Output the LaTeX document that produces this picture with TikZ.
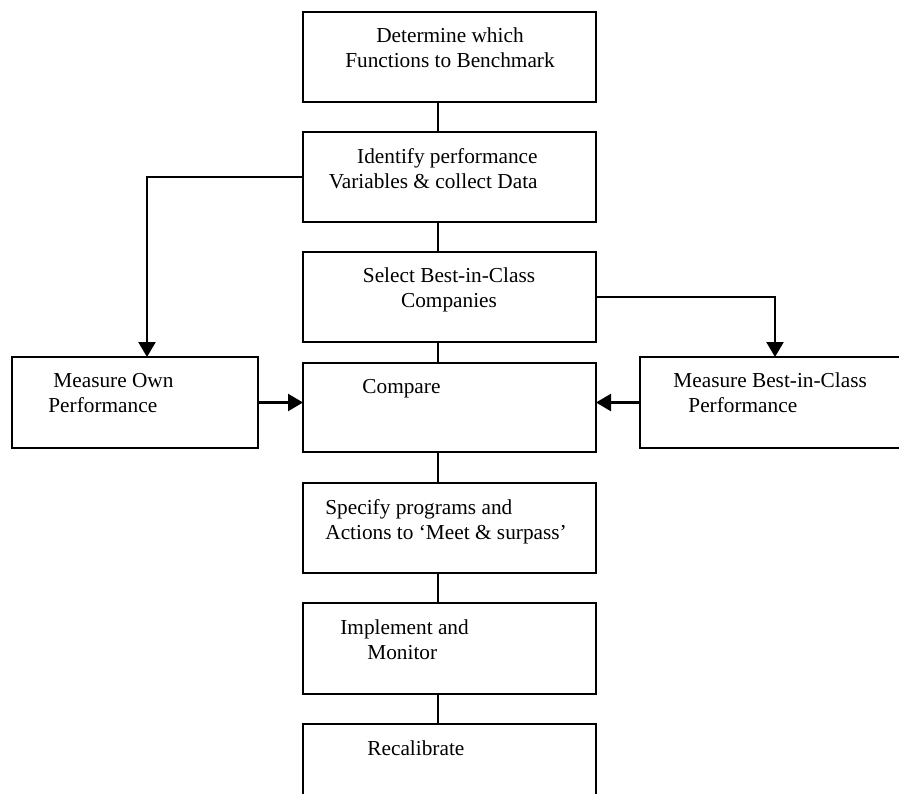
\documentclass[tikz,border=0pt]{standalone}
\usepackage{fontspec}
\setmainfont{Liberation Serif}
\usetikzlibrary{arrows.meta}

\tikzset{
    stage/.style={draw, line width=0.8pt, inner sep=0pt, outer sep=0pt, minimum width=146.5pt, minimum height=45pt},
    sidestage/.style={stage, minimum height=45.5pt},
    txt/.style={inner sep=0pt, font=\fontsize{10.65pt}{12.5pt}\selectfont},
    link/.style={line width=0.8pt},
    flow/.style={line width=1.2pt, -{Triangle[length=7.5pt, width=8.5pt]}}
}

\begin{document}
\begin{tikzpicture}[x=0.5pt, y=-0.5pt]
        \clip (0,0) rectangle (899,793);

        % main column
        \node[stage] (determine) at (449.5,57) {};
        \node[stage] (identify) at (449.5,177) {};
        \node[stage] (select) at (449.5,297) {};
        \node[stage, minimum height=44.5pt] (compare) at (449.5,407.5) {};
        \node[stage] (specify) at (449.5,528) {};
        \node[stage, minimum height=45.5pt] (implement) at (449.5,648.5) {};
        \node[stage] (recalibrate) at (449.5,769) {};

        % side boxes
        \node[sidestage, minimum width=123pt] (own) at (135,402.5) {};
        \node[sidestage, minimum width=135pt] (bench) at (775,402.5) {};

        % texts (base = last line)
        \node[txt, anchor=base, align=center] (determineTxt) at (450,67) {Determine which\\Functions to Benchmark};
        \node[txt, anchor=base east, align=right] (identifyTxt) at (538,188) {Identify performance\\Variables \& collect Data};
        \node[txt, anchor=base, align=center] (selectTxt) at (449,307) {Select Best-in-Class\\Companies};
        \node[txt, anchor=base west] (compareTxt) at (362,393) {Compare};
        \node[txt, anchor=base west, align=left] (specifyTxt) at (325,539) {Specify programs and\\Actions to `Meet \& surpass'};
        \node[txt, anchor=base west, align=left] (implementTxt) at (340,659) {Implement and\\\hspace*{13.5pt}Monitor};
        \node[txt, anchor=base west] (recalibrateTxt) at (367,755) {Recalibrate};
        \node[txt, anchor=base west, align=left] (ownTxt) at (48,412) {\hspace*{2.5pt}Measure Own\\Performance};
        \node[txt, anchor=base west, align=left] (benchTxt) at (673,412) {Measure Best-in-Class\\\hspace*{7.5pt}Performance};

        % vertical line
        \coordinate (spine) at (438,0);
        \draw[link] (determine.south -| spine) -- (identify.north -| spine);
        \draw[link] (identify.south -| spine) -- (select.north -| spine);
        \draw[link] (select.south -| spine) -- (compare.north -| spine);
        \draw[link] (compare.south -| spine) -- (specify.north -| spine);
        \draw[link] (specify.south -| spine) -- (implement.north -| spine);
        \draw[link] (implement.south -| spine) -- (recalibrate.north -| spine);

        % side arrows
        \draw[flow] (identify.west) -| ([xshift=6pt]own.north);
        \draw[flow] (select.east) -| (bench.north);
        \draw[flow] (own.east) -- (own.east -| compare.west);
        \draw[flow] (bench.west) -- (bench.west -| compare.east);
    \end{tikzpicture}
\end{document}
